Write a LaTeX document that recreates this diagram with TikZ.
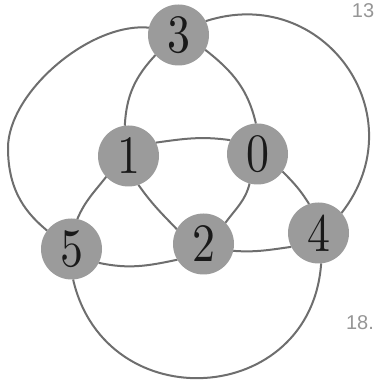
\documentclass[tikz,border=0pt]{standalone}
\usepackage{fontspec}
\newfontfamily\scanfont{Liberation Sans}
\newfontfamily\digitfont{lmroman10-regular.otf}
\usetikzlibrary{backgrounds}
\definecolor{nodegray}{RGB}{155,155,155}
\definecolor{edgegray}{RGB}{110,110,110}
\definecolor{scangray}{RGB}{150,150,150}
\begin{document}
\begin{tikzpicture}[x=1pt,y=1pt,
  vtx/.style={circle, fill=nodegray, minimum size=61pt, inner sep=0pt, outer sep=0pt,
              font=\digitfont\fontsize{54}{54}\selectfont, text=black!90},
  edge/.style={draw=edgegray, line width=2pt},
  scan/.style={font=\scanfont\fontsize{20}{20}\selectfont, text=scangray, inner sep=0pt}]
\useasboundingbox (0,0) rectangle (377,382);
% vertices
\node[vtx] (n3) at (178.5,347) {\scalebox{0.85}[1]{3}};
\node[vtx] (n1) at (128.5,226) {\scalebox{0.85}[1]{1}};
\node[vtx] (n0) at (257.5,228) {\scalebox{0.85}[1]{0}};
\node[vtx] (n5) at (71.5,133) {\scalebox{0.85}[1]{5}};
\node[vtx] (n2) at (203.5,138) {\scalebox{0.85}[1]{2}};
\node[vtx] (n4) at (318.5,149) {\scalebox{0.85}[1]{4}};
\coordinate (L) at (8,234);
% margin text of the scanned page
\node[scan] (t13) at (363,371) {13};
\node[scan] (t18) at (360,59) {18.};
\begin{pgfonlayer}{background}
\fill[white] (0,0) rectangle (377,382);
% inner edges
\draw[edge] (n3.-139) to[out=-133,in=87] (n1.97);
\draw[edge] (n3.-29) to[out=-38,in=103] (n0.93);
\draw[edge] (n1.26) to[out=8,in=172] (n0.153);
\draw[edge] (n1.-71) to[out=-55,in=134] (n2.151);
\draw[edge] (n0.-105) to[out=-104,in=54] (n2.44);
\draw[edge] (n0.-35) to[out=-45,in=122] (n4.108);
\draw[edge] (n1.-137) to[out=-128,in=67] (n5.79);
\draw[edge] (n5.-27) to[out=-12,in=-168] (n2.-149);
\draw[edge] (n2.-13) to[out=-4,in=-172] (n4.-153);
% outer edges
\draw[edge] (n3.166) to[out=175,in=90,out distance=60pt,in distance=55pt] (L)
            to[out=-90,in=140,out distance=45pt,in distance=25pt] (n5.143);
\draw[edge] (n3.27) to[out=18,in=52,distance=124pt] (n4.41);
\draw[edge] (n5.-87) to[out=-77,in=-94,distance=144pt] (n4.-85);
\end{pgfonlayer}
\end{tikzpicture}
\end{document}
